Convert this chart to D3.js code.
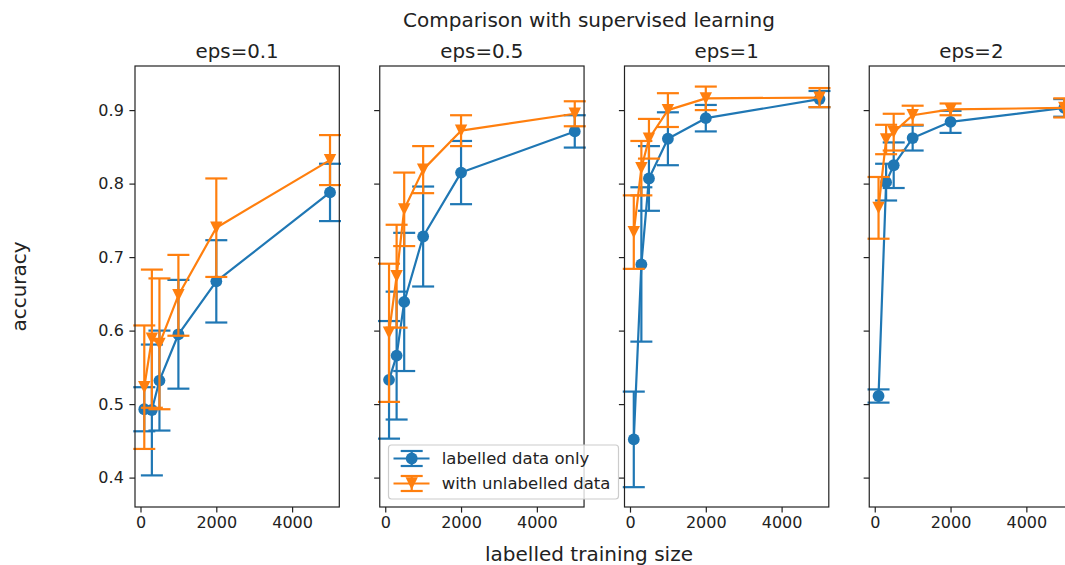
<!DOCTYPE html>
<html>
<head>
<meta charset="utf-8">
<script src="https://cdn.jsdelivr.net/npm/d3@7"></script>
<style>
  html, body { margin: 0; padding: 0; background: #fff; }
  svg { display: block; font-family: "DejaVu Sans", sans-serif; }
</style>
</head>
<body>
<svg id="chart" width="1065" height="565"></svg>
<script>
// Training set sizes (x values shared by every panel)
const sizes = [100, 300, 500, 1000, 2000, 5000];
const panelTitles = ["eps=0.1", "eps=0.5", "eps=1", "eps=2"];
const seriesNames = ["labelled data only", "with unlabelled data"];

// Mean accuracy and error (half-width) per panel, labelled data only
const labelledMean = [
  [0.493, 0.492, 0.532, 0.595, 0.667, 0.788],
  [0.533, 0.566, 0.639, 0.728, 0.815, 0.871],
  [0.452, 0.690, 0.807, 0.861, 0.889, 0.915],
  [0.511, 0.802, 0.825, 0.862, 0.884, 0.903]
];
const labelledErr = [
  [0.030, 0.089, 0.068, 0.074, 0.056, 0.039],
  [0.080, 0.087, 0.094, 0.068, 0.043, 0.022],
  [0.065, 0.105, 0.044, 0.036, 0.018, 0.011],
  [0.009, 0.025, 0.031, 0.017, 0.015, 0.012]
];

// Mean accuracy and error per panel, with unlabelled data
const unlabelledMean = [
  [0.523, 0.589, 0.582, 0.648, 0.740, 0.832],
  [0.597, 0.674, 0.765, 0.819, 0.872, 0.895],
  [0.734, 0.821, 0.861, 0.900, 0.916, 0.917],
  [0.767, 0.860, 0.870, 0.893, 0.901, 0.903]
];
const unlabelledErr = [
  [0.084, 0.094, 0.089, 0.055, 0.067, 0.034],
  [0.094, 0.070, 0.050, 0.032, 0.021, 0.017],
  [0.050, 0.037, 0.027, 0.023, 0.016, 0.013],
  [0.042, 0.020, 0.025, 0.013, 0.008, 0.013]
];

const xTicks = [0, 2000, 4000];
const yTicks = [0.4, 0.5, 0.6, 0.7, 0.8, 0.9];
const xDomain = [-145, 5245];
const yDomain = [0.36, 0.96];

const colors = ["#1f77b4", "#ff7f0e"];

// Layout
const svg = d3.select("#chart");
const plotTop = 66, plotBottom = 507;
const panelW = 204.3, panelStep = 244.75, firstLeft = 135;
const lw = 2.2, capHalf = 11, markR = 5.9, triS = 12.4;

const y = d3.scaleLinear().domain(yDomain).range([plotBottom, plotTop]);

function drawMarker(g, kind, cx, cy, color) {
  if (kind === 0) {
    g.append("circle").attr("cx", cx).attr("cy", cy).attr("r", markR).attr("fill", color);
  } else {
    const h = triS / 2;
    g.append("path")
      .attr("d", `M${cx - h},${cy - h}L${cx + h},${cy - h}L${cx},${cy + h}Z`)
      .attr("fill", color);
  }
}

panelTitles.forEach((title, p) => {
  const left = firstLeft + p * panelStep;
  const x = d3.scaleLinear().domain(xDomain).range([left, left + panelW]);
  const g = svg.append("g");

  // Series: error bars, connecting line, markers
  const seriesData = [
    [labelledMean[p], labelledErr[p]],
    [unlabelledMean[p], unlabelledErr[p]]
  ];
  const plot = g.append("g");
  seriesData.forEach(([means, errs], s) => {
    const color = colors[s];
    const sg = plot.append("g");
    sizes.forEach((sz, i) => {
      const cx = x(sz), y1 = y(means[i] + errs[i]), y0 = y(means[i] - errs[i]);
      sg.append("line").attr("x1", cx).attr("x2", cx).attr("y1", y0).attr("y2", y1)
        .attr("stroke", color).attr("stroke-width", lw);
      [y0, y1].forEach(yy => sg.append("line")
        .attr("x1", cx - capHalf).attr("x2", cx + capHalf).attr("y1", yy).attr("y2", yy)
        .attr("stroke", color).attr("stroke-width", lw));
    });
    const line = d3.line().x((d, i) => x(sizes[i])).y(d => y(d));
    sg.append("path").datum(means).attr("d", line)
      .attr("fill", "none").attr("stroke", color).attr("stroke-width", lw)
      .attr("stroke-linejoin", "round");
    means.forEach((m, i) => drawMarker(sg, s, x(sizes[i]), y(m), color));
  });

  // Axes
  const xAxis = d3.axisBottom(x).tickValues(xTicks).tickFormat(d3.format("d"))
    .tickSize(5.6).tickPadding(4.5);
  const xa = g.append("g").attr("transform", `translate(0,${plotBottom})`).call(xAxis);
  const yAxis = d3.axisLeft(y).tickValues(yTicks).tickFormat(p === 0 ? d3.format(".1f") : () => "")
    .tickSize(5.6).tickPadding(5.6);
  const ya = g.append("g").attr("transform", `translate(${left},0)`).call(yAxis);
  [xa, ya].forEach(a => {
    a.select(".domain").remove();
    a.selectAll(".tick line").attr("stroke", "#222").attr("stroke-width", 1.2);
    a.selectAll(".tick text").attr("fill", "#222").style("font-size", "16px")
      .style("font-family", "DejaVu Sans");
  });

  // Frame
  g.append("rect").attr("x", left).attr("y", plotTop).attr("width", panelW).attr("height", plotBottom - plotTop)
    .attr("fill", "none").attr("stroke", "#222").attr("stroke-width", 1.2);

  // Panel title
  g.append("text").attr("x", left + panelW / 2).attr("y", 57.5).attr("text-anchor", "middle")
    .style("font-size", "19.8px").attr("fill", "#222").text(title);
});

// Figure titles
svg.append("text").attr("x", 589).attr("y", 26.5).attr("text-anchor", "middle")
  .style("font-size", "20px").attr("fill", "#222").text("Comparison with supervised learning");
svg.append("text").attr("x", 589).attr("y", 561).attr("text-anchor", "middle")
  .style("font-size", "20px").attr("fill", "#222").text("labelled training size");
svg.append("text").attr("transform", "translate(25.5,286.5) rotate(-90)").attr("text-anchor", "middle")
  .style("font-size", "20px").attr("fill", "#222").text("accuracy");

// Legend (lower left of the second panel)
const lg = svg.append("g");
const legX = 388.5, legY = 445, legW = 230, legH = 54;
lg.append("rect").attr("x", legX).attr("y", legY).attr("width", legW).attr("height", legH)
  .attr("rx", 3).attr("fill", "#fff").attr("fill-opacity", 0.8)
  .attr("stroke", "#cccccc").attr("stroke-width", 1.2);
seriesNames.forEach((name, s) => {
  const cy = 458.5 + s * 25, color = colors[s];
  const hx0 = 393.5, hx1 = 429.5, hc = 411.7;
  lg.append("line").attr("x1", hx0).attr("x2", hx1).attr("y1", cy).attr("y2", cy)
    .attr("stroke", color).attr("stroke-width", lw);
  lg.append("line").attr("x1", hc).attr("x2", hc).attr("y1", cy - 7.5).attr("y2", cy + 7.5)
    .attr("stroke", color).attr("stroke-width", lw);
  [cy - 7.5, cy + 7.5].forEach(yy => lg.append("line")
    .attr("x1", hc - capHalf).attr("x2", hc + capHalf).attr("y1", yy).attr("y2", yy)
    .attr("stroke", color).attr("stroke-width", lw));
  drawMarker(lg, s, hc, cy, color);
  lg.append("text").attr("x", 441.7).attr("y", cy).attr("dy", "0.36em")
    .style("font-size", "16.5px").attr("fill", "#222").text(name);
});
</script>
</body>
</html>
